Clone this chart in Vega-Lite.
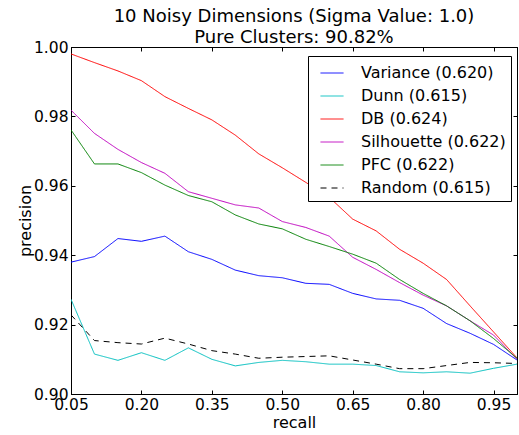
{
  "$schema": "https://vega.github.io/schema/vega-lite/v6.json",
  "width": 446,
  "height": 347,
  "autosize": "none",
  "padding": {"left": 71, "top": 47, "right": 2, "bottom": 41},
  "background": "white",
  "title": {
    "text": ["10 Noisy Dimensions (Sigma Value: 1.0)", "Pure Clusters: 90.82%"],
    "fontSize": 18,
    "fontWeight": "normal",
    "font": "DejaVu Sans",
    "color": "black",
    "anchor": "middle",
    "frame": "group",
    "offset": -7,
    "lineHeight": 21
  },
  "config": {
    "font": "DejaVu Sans",
    "view": {"stroke": "black", "strokeWidth": 1},
    "axis": {
      "domainColor": "black",
      "tickColor": "black",
      "labelColor": "black",
      "titleColor": "black",
      "grid": false,
      "labelFont": "DejaVu Sans",
      "titleFont": "DejaVu Sans",
      "labelFontSize": 15.5,
      "titleFontSize": 16,
      "titleFontWeight": "normal",
      "tickSize": -4,
      "labelFlush": false,
      "labelOverlap": false
    },
    "legend": {
      "labelFont": "DejaVu Sans",
      "labelFontSize": 16,
      "labelColor": "black"
    }
  },
  "data": {
    "values": [
      {"s": "Variance (0.620)", "r": 0.05, "p": 0.938}, {"s": "Variance (0.620)", "r": 0.10, "p": 0.9396}, {"s": "Variance (0.620)", "r": 0.15, "p": 0.9448}, {"s": "Variance (0.620)", "r": 0.20, "p": 0.944}, {"s": "Variance (0.620)", "r": 0.25, "p": 0.9455}, {"s": "Variance (0.620)", "r": 0.30, "p": 0.941}, {"s": "Variance (0.620)", "r": 0.35, "p": 0.9388}, {"s": "Variance (0.620)", "r": 0.40, "p": 0.9357}, {"s": "Variance (0.620)", "r": 0.45, "p": 0.9341}, {"s": "Variance (0.620)", "r": 0.50, "p": 0.9335}, {"s": "Variance (0.620)", "r": 0.55, "p": 0.9319}, {"s": "Variance (0.620)", "r": 0.60, "p": 0.9316}, {"s": "Variance (0.620)", "r": 0.65, "p": 0.929}, {"s": "Variance (0.620)", "r": 0.70, "p": 0.9274}, {"s": "Variance (0.620)", "r": 0.75, "p": 0.927}, {"s": "Variance (0.620)", "r": 0.80, "p": 0.9247}, {"s": "Variance (0.620)", "r": 0.85, "p": 0.9203}, {"s": "Variance (0.620)", "r": 0.90, "p": 0.9175}, {"s": "Variance (0.620)", "r": 0.95, "p": 0.9143}, {"s": "Variance (0.620)", "r": 1.00, "p": 0.9098},
      {"s": "Dunn (0.615)", "r": 0.05, "p": 0.9273}, {"s": "Dunn (0.615)", "r": 0.10, "p": 0.9115}, {"s": "Dunn (0.615)", "r": 0.15, "p": 0.9097}, {"s": "Dunn (0.615)", "r": 0.20, "p": 0.9119}, {"s": "Dunn (0.615)", "r": 0.25, "p": 0.9097}, {"s": "Dunn (0.615)", "r": 0.30, "p": 0.9133}, {"s": "Dunn (0.615)", "r": 0.35, "p": 0.91}, {"s": "Dunn (0.615)", "r": 0.40, "p": 0.9081}, {"s": "Dunn (0.615)", "r": 0.45, "p": 0.9091}, {"s": "Dunn (0.615)", "r": 0.50, "p": 0.9097}, {"s": "Dunn (0.615)", "r": 0.55, "p": 0.9093}, {"s": "Dunn (0.615)", "r": 0.60, "p": 0.9086}, {"s": "Dunn (0.615)", "r": 0.65, "p": 0.9086}, {"s": "Dunn (0.615)", "r": 0.70, "p": 0.9082}, {"s": "Dunn (0.615)", "r": 0.75, "p": 0.9064}, {"s": "Dunn (0.615)", "r": 0.80, "p": 0.9061}, {"s": "Dunn (0.615)", "r": 0.85, "p": 0.9064}, {"s": "Dunn (0.615)", "r": 0.90, "p": 0.906}, {"s": "Dunn (0.615)", "r": 0.95, "p": 0.9074}, {"s": "Dunn (0.615)", "r": 1.00, "p": 0.9086},
      {"s": "DB (0.624)", "r": 0.05, "p": 0.998}, {"s": "DB (0.624)", "r": 0.10, "p": 0.9955}, {"s": "DB (0.624)", "r": 0.15, "p": 0.9931}, {"s": "DB (0.624)", "r": 0.20, "p": 0.9903}, {"s": "DB (0.624)", "r": 0.25, "p": 0.9857}, {"s": "DB (0.624)", "r": 0.30, "p": 0.9823}, {"s": "DB (0.624)", "r": 0.35, "p": 0.979}, {"s": "DB (0.624)", "r": 0.40, "p": 0.9746}, {"s": "DB (0.624)", "r": 0.45, "p": 0.9692}, {"s": "DB (0.624)", "r": 0.50, "p": 0.9652}, {"s": "DB (0.624)", "r": 0.55, "p": 0.961}, {"s": "DB (0.624)", "r": 0.60, "p": 0.9567}, {"s": "DB (0.624)", "r": 0.65, "p": 0.9504}, {"s": "DB (0.624)", "r": 0.70, "p": 0.947}, {"s": "DB (0.624)", "r": 0.75, "p": 0.9417}, {"s": "DB (0.624)", "r": 0.80, "p": 0.9377}, {"s": "DB (0.624)", "r": 0.85, "p": 0.933}, {"s": "DB (0.624)", "r": 0.90, "p": 0.9254}, {"s": "DB (0.624)", "r": 0.95, "p": 0.9179}, {"s": "DB (0.624)", "r": 1.00, "p": 0.9104},
      {"s": "Silhouette (0.622)", "r": 0.05, "p": 0.9818}, {"s": "Silhouette (0.622)", "r": 0.10, "p": 0.9751}, {"s": "Silhouette (0.622)", "r": 0.15, "p": 0.9705}, {"s": "Silhouette (0.622)", "r": 0.20, "p": 0.9667}, {"s": "Silhouette (0.622)", "r": 0.25, "p": 0.9636}, {"s": "Silhouette (0.622)", "r": 0.30, "p": 0.9583}, {"s": "Silhouette (0.622)", "r": 0.35, "p": 0.9564}, {"s": "Silhouette (0.622)", "r": 0.40, "p": 0.9545}, {"s": "Silhouette (0.622)", "r": 0.45, "p": 0.9536}, {"s": "Silhouette (0.622)", "r": 0.50, "p": 0.9497}, {"s": "Silhouette (0.622)", "r": 0.55, "p": 0.948}, {"s": "Silhouette (0.622)", "r": 0.60, "p": 0.9455}, {"s": "Silhouette (0.622)", "r": 0.65, "p": 0.9394}, {"s": "Silhouette (0.622)", "r": 0.70, "p": 0.9359}, {"s": "Silhouette (0.622)", "r": 0.75, "p": 0.9321}, {"s": "Silhouette (0.622)", "r": 0.80, "p": 0.9285}, {"s": "Silhouette (0.622)", "r": 0.85, "p": 0.9254}, {"s": "Silhouette (0.622)", "r": 0.90, "p": 0.9211}, {"s": "Silhouette (0.622)", "r": 0.95, "p": 0.917}, {"s": "Silhouette (0.622)", "r": 1.00, "p": 0.91},
      {"s": "PFC (0.622)", "r": 0.05, "p": 0.9761}, {"s": "PFC (0.622)", "r": 0.10, "p": 0.9663}, {"s": "PFC (0.622)", "r": 0.15, "p": 0.9663}, {"s": "PFC (0.622)", "r": 0.20, "p": 0.9638}, {"s": "PFC (0.622)", "r": 0.25, "p": 0.9602}, {"s": "PFC (0.622)", "r": 0.30, "p": 0.9572}, {"s": "PFC (0.622)", "r": 0.35, "p": 0.9554}, {"s": "PFC (0.622)", "r": 0.40, "p": 0.9516}, {"s": "PFC (0.622)", "r": 0.45, "p": 0.949}, {"s": "PFC (0.622)", "r": 0.50, "p": 0.9476}, {"s": "PFC (0.622)", "r": 0.55, "p": 0.9446}, {"s": "PFC (0.622)", "r": 0.60, "p": 0.9425}, {"s": "PFC (0.622)", "r": 0.65, "p": 0.9403}, {"s": "PFC (0.622)", "r": 0.70, "p": 0.9377}, {"s": "PFC (0.622)", "r": 0.75, "p": 0.933}, {"s": "PFC (0.622)", "r": 0.80, "p": 0.929}, {"s": "PFC (0.622)", "r": 0.85, "p": 0.9254}, {"s": "PFC (0.622)", "r": 0.90, "p": 0.9211}, {"s": "PFC (0.622)", "r": 0.95, "p": 0.916}, {"s": "PFC (0.622)", "r": 1.00, "p": 0.9103},
      {"s": "Random (0.615)", "r": 0.05, "p": 0.9228}, {"s": "Random (0.615)", "r": 0.10, "p": 0.9154}, {"s": "Random (0.615)", "r": 0.15, "p": 0.9148}, {"s": "Random (0.615)", "r": 0.20, "p": 0.9144}, {"s": "Random (0.615)", "r": 0.25, "p": 0.9161}, {"s": "Random (0.615)", "r": 0.30, "p": 0.9144}, {"s": "Random (0.615)", "r": 0.35, "p": 0.9125}, {"s": "Random (0.615)", "r": 0.40, "p": 0.9115}, {"s": "Random (0.615)", "r": 0.45, "p": 0.9103}, {"s": "Random (0.615)", "r": 0.50, "p": 0.9106}, {"s": "Random (0.615)", "r": 0.55, "p": 0.9108}, {"s": "Random (0.615)", "r": 0.60, "p": 0.911}, {"s": "Random (0.615)", "r": 0.65, "p": 0.9098}, {"s": "Random (0.615)", "r": 0.70, "p": 0.9086}, {"s": "Random (0.615)", "r": 0.75, "p": 0.9073}, {"s": "Random (0.615)", "r": 0.80, "p": 0.9073}, {"s": "Random (0.615)", "r": 0.85, "p": 0.9082}, {"s": "Random (0.615)", "r": 0.90, "p": 0.9091}, {"s": "Random (0.615)", "r": 0.95, "p": 0.909}, {"s": "Random (0.615)", "r": 1.00, "p": 0.9088}
    ]
  },
  "layer": [
    {
      "mark": {"type": "line", "strokeWidth": 1, "clip": true},
      "encoding": {
        "x": {
          "field": "r", "type": "quantitative",
          "scale": {"domain": [0.05, 1.0], "nice": false, "zero": false},
          "axis": {"values": [0.05, 0.2, 0.35, 0.5, 0.65, 0.8, 0.95], "format": ".2f", "title": "recall", "labelPadding": 7, "titlePadding": 2}
        },
        "y": {
          "field": "p", "type": "quantitative",
          "scale": {"domain": [0.9, 1.0], "nice": false, "zero": false},
          "axis": {"values": [0.9, 0.92, 0.94, 0.96, 0.98, 1.0], "format": ".2f", "title": "precision", "labelPadding": 7, "titlePadding": 0}
        },
        "color": {
          "field": "s", "type": "nominal",
          "scale": {
            "domain": ["Variance (0.620)", "Dunn (0.615)", "DB (0.624)", "Silhouette (0.622)", "PFC (0.622)", "Random (0.615)"],
            "range": ["#0000ff", "#00bfbf", "#ff0000", "#bf00bf", "#008000", "#000000"]
          },
          "legend": {
            "title": null,
            "orient": "none",
            "legendX": 237,
            "legendY": 9,
            "strokeColor": "black",
            "fillColor": "white",
            "padding": 5,
            "symbolOffset": 7,
            "symbolType": "stroke",
            "symbolSize": 529,
            "symbolStrokeWidth": 1,
            "labelOffset": 17,
            "rowPadding": 3
          }
        },
        "strokeDash": {
          "field": "s", "type": "nominal",
          "scale": {
            "domain": ["Variance (0.620)", "Dunn (0.615)", "DB (0.624)", "Silhouette (0.622)", "PFC (0.622)", "Random (0.615)"],
            "range": [[1, 0], [1, 0], [1, 0], [1, 0], [1, 0], [6, 5]]
          },
          "legend": null
        }
      }
    },
    {
      "mark": {"type": "line", "opacity": 0},
      "encoding": {
        "x": {
          "field": "r", "type": "quantitative",
          "scale": {"domain": [0.05, 1.0], "nice": false, "zero": false},
          "axis": {"orient": "top", "values": [0.05, 0.2, 0.35, 0.5, 0.65, 0.8, 0.95], "labels": false, "title": null}
        },
        "y": {
          "field": "p", "type": "quantitative",
          "scale": {"domain": [0.9, 1.0], "nice": false, "zero": false},
          "axis": {"orient": "right", "values": [0.9, 0.92, 0.94, 0.96, 0.98, 1.0], "labels": false, "title": null}
        },
        "detail": {"field": "s"}
      }
    }
  ],
  "resolve": {"axis": {"x": "independent", "y": "independent"}}
}
